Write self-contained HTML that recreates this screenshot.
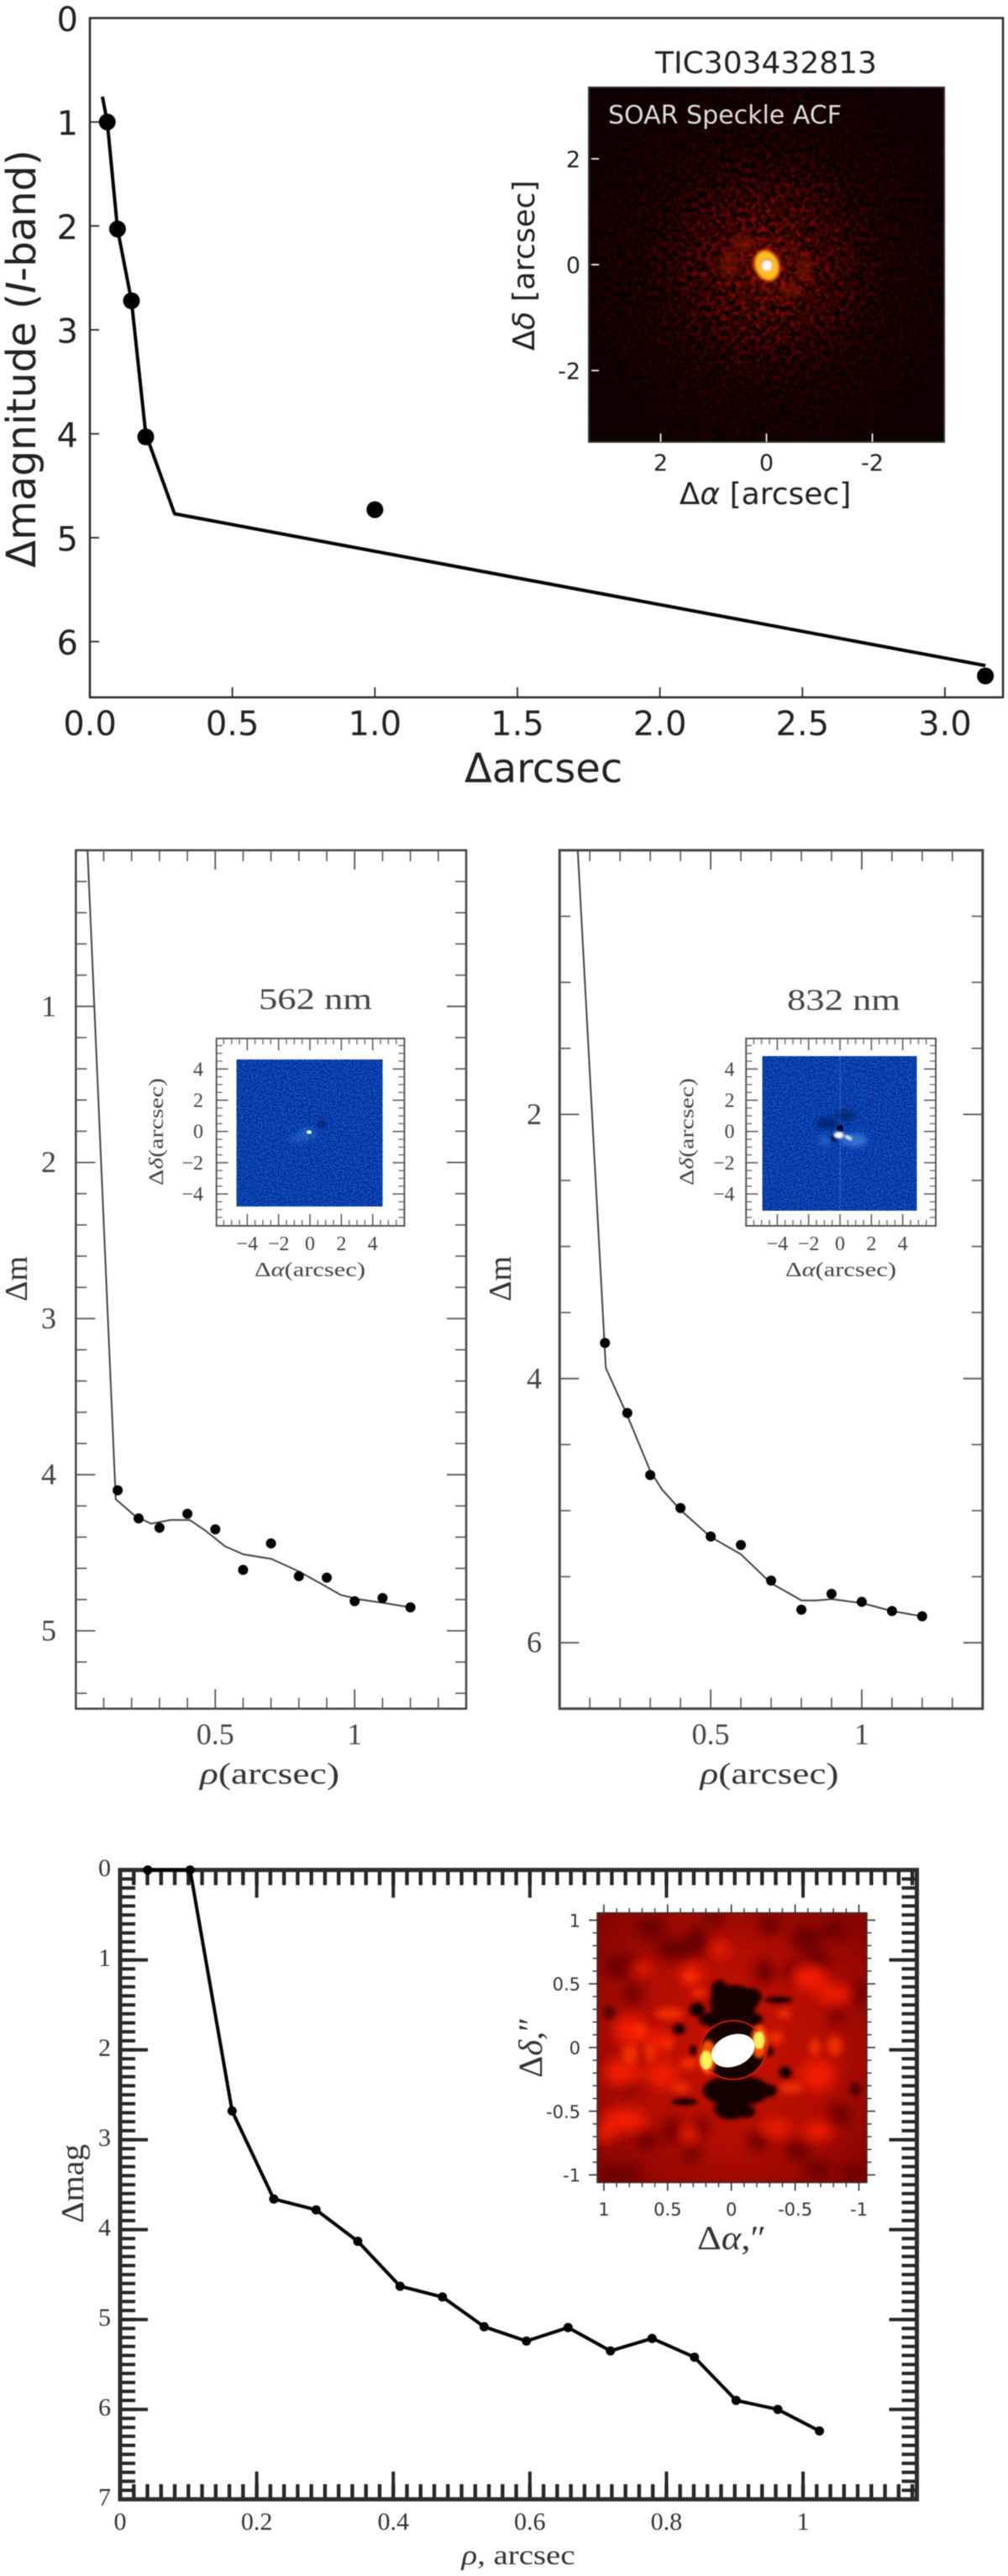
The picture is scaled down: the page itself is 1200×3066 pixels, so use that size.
<!DOCTYPE html>
<html lang="en">
<head>
<meta charset="utf-8">
<title>Contrast curves for TIC303432813</title>
<style>
html,body{margin:0;padding:0;background:#fff;}
#figure{display:block;width:1200px;height:3066px;filter:blur(0.45px);}
.sans{font-family:"DejaVu Sans","Liberation Sans",sans-serif;}
.serif{font-family:"Liberation Serif","DejaVu Serif",serif;}
</style>
</head>
<body>
<svg id="figure" xmlns="http://www.w3.org/2000/svg" width="1200" height="3066" viewBox="0 0 1200 3066">
<defs>
  <filter id="speckleNoise" x="0" y="0" width="100%" height="100%" color-interpolation-filters="sRGB">
    <feTurbulence type="fractalNoise" baseFrequency="0.17" numOctaves="2" seed="7"/>
    <feColorMatrix type="matrix" values="2.2 0 0 0 -0.78  0.12 0 0 0 -0.05  0 0 0 0 0  0 0 0 0 1"/>
  </filter>
  <radialGradient id="speckleFade" gradientUnits="userSpaceOnUse" cx="912" cy="316" r="240">
    <stop offset="0" stop-color="#bbb"/>
    <stop offset="0.3" stop-color="#777"/>
    <stop offset="0.6" stop-color="#2a2a2a"/>
    <stop offset="1" stop-color="#0c0c0c"/>
  </radialGradient>
  <mask id="speckleMask" maskUnits="userSpaceOnUse" x="701" y="104" width="423" height="422">
    <rect x="701" y="104" width="423" height="422" fill="url(#speckleFade)"/>
  </mask>
  <radialGradient id="speckleGlow">
    <stop offset="0" stop-color="#a02000" stop-opacity="0.8"/>
    <stop offset="1" stop-color="#a02000" stop-opacity="0"/>
  </radialGradient>
  <filter id="blueNoise" x="0" y="0" width="100%" height="100%" color-interpolation-filters="sRGB">
    <feTurbulence type="fractalNoise" baseFrequency="0.55" numOctaves="2" seed="11"/>
    <feColorMatrix type="matrix" values="0 0 0 0 0.04  0.5 0 0 0 0  0.9 0 0 0 0.22  0 0 0 0 1"/>
  </filter>
  <filter id="blur1" x="-30%" y="-30%" width="160%" height="160%"><feGaussianBlur stdDeviation="1.2"/></filter>
  <filter id="blur3" x="-60%" y="-60%" width="220%" height="220%"><feGaussianBlur stdDeviation="3"/></filter>
  <filter id="heatBlur" x="-10%" y="-10%" width="120%" height="120%"><feGaussianBlur stdDeviation="22"/></filter>
  <filter id="heatBlurMid" x="-30%" y="-30%" width="160%" height="160%"><feGaussianBlur stdDeviation="12"/></filter>
  <filter id="heatBlurFine" x="-30%" y="-30%" width="160%" height="160%"><feGaussianBlur stdDeviation="7"/></filter>
  <filter id="heatBlurTiny" x="-60%" y="-60%" width="220%" height="220%"><feGaussianBlur stdDeviation="3"/></filter>
  <radialGradient id="heatBase" gradientUnits="userSpaceOnUse" cx="695" cy="590" r="640">
    <stop offset="0" stop-color="#c81200"/>
    <stop offset="0.55" stop-color="#b00e00"/>
    <stop offset="0.85" stop-color="#940800"/>
    <stop offset="1" stop-color="#860500"/>
  </radialGradient>
  <clipPath id="heatClip"><rect x="212" y="110" width="965" height="963"/></clipPath>
</defs>

<rect x="0" y="0" width="1200" height="3066" fill="#fff"/>

<!-- PANEL 1 -->
<g id="p1">
  <rect x="107" y="21.5" width="1087" height="808.5" fill="none" stroke="#2a2a2a" stroke-width="2.5"/>
  <text class="sans" x="0" y="0" transform="translate(42 427) rotate(-90)" text-anchor="middle" font-size="48" fill="#222">Δmagnitude (<tspan font-style="italic">I</tspan>-band)</text>
  <text class="sans" x="647" y="931" text-anchor="middle" font-size="48" fill="#222">Δarcsec</text>
  <g id="p1Ticks"></g>
  <g id="p1Marks"></g>
  <text class="sans" x="912" y="87" text-anchor="middle" font-size="36" fill="#222">TIC303432813</text>
  <g>
    <rect x="701" y="104" width="423" height="422" fill="#0d0000"/>
    <rect x="701" y="104" width="423" height="422" filter="url(#speckleNoise)" mask="url(#speckleMask)"/>
    <circle cx="912" cy="316" r="120" fill="url(#speckleGlow)" opacity="0.18"/>
    <circle cx="912" cy="316" r="50" fill="url(#speckleGlow)" opacity="0.28"/>
    <ellipse cx="867" cy="313" rx="11" ry="16" fill="#7a1800" opacity="0.6" filter="url(#blur3)"/>
    <ellipse cx="958" cy="320" rx="9" ry="15" fill="#7a1800" opacity="0.6" filter="url(#blur3)"/>
    <ellipse cx="942" cy="345" rx="14" ry="9" fill="#7a1800" opacity="0.6" filter="url(#blur3)"/>
    <ellipse cx="883" cy="290" rx="14" ry="9" fill="#7a1800" opacity="0.6" filter="url(#blur3)"/>
    <g filter="url(#blur1)">
      <ellipse cx="913" cy="316" rx="16" ry="20" fill="#d04000" transform="rotate(-20 913 316)"/>
      <ellipse cx="913" cy="316" rx="13" ry="17" fill="#ffc020" transform="rotate(-20 913 316)"/>
      <circle cx="913" cy="315" r="7.5" fill="#f09000"/>
      <circle cx="913" cy="316" r="6" fill="#fff"/>
    </g>
    <rect x="701" y="104" width="423" height="422" fill="none" stroke="#333" stroke-width="2"/>
  </g>
  <text class="sans" x="724" y="147" font-size="30" fill="#dcdcdc">SOAR Speckle ACF</text>
  <g id="p1InsetTicks"></g>
  <text class="sans" x="0" y="0" transform="translate(636 316) rotate(-90)" text-anchor="middle" font-size="36" fill="#222">Δ<tspan font-style="italic">δ</tspan> [arcsec]</text>
  <text class="sans" x="911" y="600" text-anchor="middle" font-size="36" fill="#222">Δ<tspan font-style="italic">α</tspan> [arcsec]</text>
</g>

<!-- PANEL 2 -->
<g id="p2">
  <rect x="90.3" y="1012" width="464.7" height="1021.7" fill="none" stroke="#444" stroke-width="2.5"/>
  <g id="p2Ticks"></g>
  <g id="p2Marks"></g>
  <text class="serif" x="0" y="0" transform="translate(32 1522) rotate(-90)" text-anchor="middle" font-size="38" fill="#333">Δm</text>
  <text class="serif" x="321" y="2123" text-anchor="middle" font-size="36" fill="#333" textLength="166" lengthAdjust="spacingAndGlyphs"><tspan font-style="italic">ρ</tspan>(arcsec)</text>
  <text class="serif" x="375.5" y="1201" text-anchor="middle" font-size="36" fill="#444" textLength="135" lengthAdjust="spacingAndGlyphs">562 nm</text>
  <g>
    <rect x="281.5" y="1261" width="173.7" height="175" filter="url(#blueNoise)"/>
    <ellipse cx="366" cy="1350" rx="10" ry="9" fill="#3f8ae0" opacity="0.35" filter="url(#blur3)"/>
    <ellipse cx="353" cy="1355" rx="8" ry="6" fill="#2f78d8" opacity="0.35" filter="url(#blur3)"/>
    <ellipse cx="383" cy="1338" rx="6" ry="5" fill="#062060" opacity="0.6" filter="url(#blur1)"/>
    <rect x="367.5" y="1318" width="1.5" height="60" fill="#07296f" opacity="0.45"/>
    <ellipse cx="368" cy="1347.5" rx="3" ry="2.2" fill="#fff"/>
  </g>
  <rect x="257.7" y="1236" width="223.7" height="223" fill="none" stroke="#555" stroke-width="2"/>
  <g id="p2InsetTicks"></g>
  <text class="serif" x="0" y="0" transform="translate(194 1347) rotate(-90)" text-anchor="middle" font-size="24" fill="#444" textLength="128" lengthAdjust="spacingAndGlyphs">Δ<tspan font-style="italic">δ</tspan>(arcsec)</text>
  <text class="serif" x="369" y="1519" text-anchor="middle" font-size="24" fill="#444" textLength="132" lengthAdjust="spacingAndGlyphs">Δ<tspan font-style="italic">α</tspan>(arcsec)</text>
</g>

<!-- PANEL 3 -->
<g id="p3">
  <rect x="666.2" y="1012" width="503.6" height="1021.7" fill="none" stroke="#444" stroke-width="3"/>
  <g id="p3Ticks"></g>
  <g id="p3Marks"></g>
  <text class="serif" x="0" y="0" transform="translate(608 1522) rotate(-90)" text-anchor="middle" font-size="38" fill="#333">Δm</text>
  <text class="serif" x="916" y="2123" text-anchor="middle" font-size="36" fill="#333" textLength="165" lengthAdjust="spacingAndGlyphs"><tspan font-style="italic">ρ</tspan>(arcsec)</text>
  <text class="serif" x="1004.5" y="1202" text-anchor="middle" font-size="36" fill="#444" textLength="135" lengthAdjust="spacingAndGlyphs">832 nm</text>
  <g>
    <rect x="907.5" y="1257.2" width="184" height="183.8" filter="url(#blueNoise)"/>
    <rect x="999.5" y="1257.2" width="1.2" height="183.8" fill="#4a86e0" opacity="0.5"/>
    <ellipse cx="1017" cy="1357" rx="16" ry="8" fill="#4f9be8" opacity="0.55" filter="url(#blur3)"/>
    <ellipse cx="982" cy="1358" rx="8" ry="7" fill="#3a80de" opacity="0.4" filter="url(#blur3)"/>
    <ellipse cx="985" cy="1337" rx="13" ry="7" fill="#041a5e" opacity="0.7" filter="url(#blur3)"/>
    <ellipse cx="1007" cy="1328" rx="12" ry="7" fill="#05215f" opacity="0.6" filter="url(#blur3)"/>
    <ellipse cx="1000" cy="1343" rx="4" ry="4" fill="#02082a"/>
    <ellipse cx="993" cy="1355" rx="4" ry="4" fill="#04133f" filter="url(#blur1)"/>
    <ellipse cx="998.5" cy="1351" rx="6" ry="4" fill="#fff" filter="url(#blur1)"/>
    <ellipse cx="1010" cy="1354" rx="5" ry="2" fill="#fff" transform="rotate(30 1010 1354)" filter="url(#blur1)"/>
  </g>
  <rect x="888.2" y="1236" width="225.8" height="223" fill="none" stroke="#555" stroke-width="2"/>
  <g id="p3InsetTicks"></g>
  <text class="serif" x="0" y="0" transform="translate(825.5 1347) rotate(-90)" text-anchor="middle" font-size="24" fill="#444" textLength="128" lengthAdjust="spacingAndGlyphs">Δ<tspan font-style="italic">δ</tspan>(arcsec)</text>
  <text class="serif" x="1001" y="1519" text-anchor="middle" font-size="24" fill="#444" textLength="132" lengthAdjust="spacingAndGlyphs">Δ<tspan font-style="italic">α</tspan>(arcsec)</text>
</g>

<!-- PANEL 4 -->
<g id="p4">
  <g id="p4Ticks"></g>
  <rect x="143" y="2225.7" width="948.5" height="749" fill="none" stroke="#2c2c2c" stroke-width="5"/>
  <g id="p4Marks"></g>
  <text class="serif" x="0" y="0" transform="translate(99 2599) rotate(-90)" text-anchor="middle" font-size="38" fill="#333" textLength="94" lengthAdjust="spacingAndGlyphs">Δmag</text>
  <text class="serif" x="617" y="3052" text-anchor="middle" font-size="33" fill="#333" textLength="135" lengthAdjust="spacingAndGlyphs"><tspan font-style="italic">ρ</tspan>, arcsec</text>
  <svg x="711" y="2276.7" width="321" height="321" viewBox="212 110 965 963">
    <g clip-path="url(#heatClip)">
      <rect x="212" y="110" width="965" height="963" fill="url(#heatBase)"/>
      <g filter="url(#heatBlur)" fill="#660000">
        <ellipse cx="405" cy="165" rx="50" ry="40"/><ellipse cx="490" cy="240" rx="70" ry="40"/><ellipse cx="570" cy="210" rx="40" ry="55"/>
        <ellipse cx="960" cy="200" rx="55" ry="45"/><ellipse cx="1000" cy="280" rx="50" ry="35"/><ellipse cx="1060" cy="170" rx="40" ry="35"/>
        <ellipse cx="340" cy="400" rx="35" ry="35"/><ellipse cx="300" cy="300" rx="65" ry="40"/><ellipse cx="810" cy="320" rx="35" ry="45"/>
        <ellipse cx="910" cy="320" rx="30" ry="45"/><ellipse cx="630" cy="130" rx="35" ry="25"/><ellipse cx="830" cy="150" rx="40" ry="35"/>
        <ellipse cx="390" cy="925" rx="40" ry="30"/><ellipse cx="480" cy="890" rx="30" ry="50"/><ellipse cx="580" cy="880" rx="27" ry="40"/>
        <ellipse cx="790" cy="925" rx="40" ry="35"/><ellipse cx="930" cy="960" rx="45" ry="35"/><ellipse cx="1000" cy="1030" rx="50" ry="30"/>
        <ellipse cx="260" cy="1050" rx="45" ry="30"/><ellipse cx="550" cy="970" rx="35" ry="30"/><ellipse cx="1130" cy="1040" rx="45" ry="30"/>
        <ellipse cx="330" cy="1040" rx="35" ry="30"/><ellipse cx="1080" cy="830" rx="40" ry="35"/><ellipse cx="1150" cy="400" rx="30" ry="45"/>
        <ellipse cx="1070" cy="480" rx="27" ry="30"/><ellipse cx="320" cy="720" rx="30" ry="30"/><ellipse cx="405" cy="710" rx="27" ry="25"/>
      </g>
      <g filter="url(#heatBlur)" fill="#f01c00">
        <ellipse cx="330" cy="530" rx="60" ry="55"/><ellipse cx="300" cy="680" rx="65" ry="50"/><ellipse cx="440" cy="690" rx="65" ry="50"/>
        <ellipse cx="310" cy="850" rx="85" ry="45"/><ellipse cx="970" cy="340" rx="65" ry="45"/><ellipse cx="1060" cy="400" rx="65" ry="35"/>
        <ellipse cx="1000" cy="690" rx="65" ry="55"/><ellipse cx="850" cy="880" rx="60" ry="30"/><ellipse cx="1000" cy="890" rx="55" ry="35"/>
        <ellipse cx="550" cy="330" rx="45" ry="35"/><ellipse cx="370" cy="310" rx="45" ry="22"/><ellipse cx="650" cy="240" rx="40" ry="27"/>
        <ellipse cx="240" cy="900" rx="35" ry="30"/><ellipse cx="540" cy="900" rx="30" ry="35"/><ellipse cx="430" cy="570" rx="50" ry="40"/>
      </g>
      <g filter="url(#heatBlurMid)" fill="#f83400" opacity="0.85">
        <ellipse cx="330" cy="615" rx="28" ry="38"/><ellipse cx="402" cy="610" rx="18" ry="34"/><ellipse cx="470" cy="470" rx="52" ry="22"/>
        <ellipse cx="365" cy="530" rx="24" ry="22"/><ellipse cx="540" cy="648" rx="32" ry="20"/><ellipse cx="850" cy="555" rx="30" ry="22"/>
        <ellipse cx="905" cy="735" rx="44" ry="20"/><ellipse cx="990" cy="590" rx="20" ry="32"/><ellipse cx="1062" cy="585" rx="28" ry="36"/>
        <ellipse cx="510" cy="735" rx="37" ry="17"/><ellipse cx="575" cy="395" rx="27" ry="16"/><ellipse cx="880" cy="470" rx="27" ry="17"/>
        <ellipse cx="545" cy="340" rx="24" ry="20"/><ellipse cx="465" cy="575" rx="16" ry="22"/>
      </g>
      <g filter="url(#heatBlurFine)" fill="#120000">
        <ellipse cx="700" cy="430" rx="85" ry="62"/><ellipse cx="650" cy="385" rx="30" ry="35"/><ellipse cx="570" cy="455" rx="28" ry="24"/>
        <ellipse cx="760" cy="410" rx="40" ry="32"/><ellipse cx="860" cy="420" rx="50" ry="11"/><ellipse cx="690" cy="490" rx="115" ry="35"/>
        <ellipse cx="710" cy="745" rx="120" ry="55"/><ellipse cx="690" cy="810" rx="60" ry="38"/><ellipse cx="830" cy="745" rx="24" ry="22"/>
        <ellipse cx="525" cy="785" rx="46" ry="12"/><ellipse cx="745" cy="820" rx="32" ry="22"/><ellipse cx="505" cy="525" rx="22" ry="18"/>
        <ellipse cx="885" cy="680" rx="22" ry="20"/><ellipse cx="555" cy="600" rx="12" ry="17"/><ellipse cx="830" cy="605" rx="12" ry="17"/>
        <ellipse cx="255" cy="465" rx="22" ry="24" opacity="0.5"/><ellipse cx="1135" cy="740" rx="22" ry="26" opacity="0.5"/>
      </g>
      <ellipse cx="698" cy="600" rx="115" ry="105" fill="#180000"/>
      <g filter="url(#heatBlurFine)">
        <ellipse cx="608" cy="625" rx="30" ry="62" fill="#ff5000"/>
        <ellipse cx="792" cy="570" rx="30" ry="60" fill="#ff5000"/>
      </g>
      <ellipse cx="698" cy="600" rx="115" ry="105" fill="none" stroke="#d82000" stroke-width="5"/>
      <ellipse cx="602" cy="636" rx="22" ry="34" fill="#fff25a" filter="url(#heatBlurTiny)"/>
      <ellipse cx="791" cy="565" rx="20" ry="32" fill="#fff25a" filter="url(#heatBlurTiny)"/>
      <ellipse cx="698" cy="602" rx="80" ry="56" fill="#fff" transform="rotate(-22 698 602)"/>
    </g>
  </svg>
  <rect x="711" y="2276.7" width="321" height="321" fill="none" stroke="#333" stroke-width="1.5"/>
  <g id="p4InsetTicks"></g>
  <text class="serif" x="0" y="0" transform="translate(645 2437) rotate(-90)" text-anchor="middle" font-size="40" fill="#333" textLength="72" lengthAdjust="spacingAndGlyphs">Δ<tspan font-style="italic">δ</tspan>,″</text>
  <text class="serif" x="871" y="2677" text-anchor="middle" font-size="40" fill="#333" textLength="82" lengthAdjust="spacingAndGlyphs">Δ<tspan font-style="italic">α</tspan>,″</text>
</g>
</svg>

<script>
// ---------- chart data ----------
const p1PointSep = [0.061, 0.097, 0.146, 0.196, 1.0, 3.142];
const p1PointMag = [1.0, 2.03, 2.72, 4.03, 4.73, 6.33];
const p1CurveSep = [0.044, 0.061, 0.097, 0.146, 0.196, 0.297, 3.142];
const p1CurveMag = [0.756, 1.0, 2.03, 2.72, 4.0, 4.77, 6.23];
const p1XTicks = ['0.0', '0.5', '1.0', '1.5', '2.0', '2.5', '3.0'];
const p1YTicks = ['0', '1', '2', '3', '4', '5', '6'];
const p1InsetXTicks = ['2', '0', '-2'];
const p1InsetYTicks = ['2', '0', '-2'];

const p2PointSep = [0.15, 0.225, 0.3, 0.4, 0.5, 0.6, 0.7, 0.8, 0.9, 1.0, 1.1, 1.2];
const p2PointMag = [4.1, 4.28, 4.34, 4.25, 4.35, 4.61, 4.44, 4.65, 4.66, 4.81, 4.79, 4.85];
const p2CurveSep = [0.042, 0.143, 0.212, 0.27, 0.339, 0.408, 0.466, 0.535, 0.601, 0.702, 0.8, 0.881, 0.95, 1.02, 1.1, 1.2];
const p2CurveMag = [0, 4.157, 4.264, 4.314, 4.29, 4.29, 4.36, 4.459, 4.51, 4.54, 4.62, 4.7, 4.77, 4.8, 4.82, 4.85];
const p2XTicks = ['0.5', '1'];
const p2YTicks = ['1', '2', '3', '4', '5'];

const p3PointSep = [0.15, 0.224, 0.3, 0.4, 0.5, 0.6, 0.7, 0.8, 0.9, 1.0, 1.1, 1.2];
const p3PointMag = [3.73, 4.26, 4.73, 4.98, 5.195, 5.26, 5.53, 5.75, 5.63, 5.69, 5.76, 5.8];
const p3CurveSep = [0.06, 0.153, 0.224, 0.3, 0.339, 0.4, 0.5, 0.6, 0.7, 0.755, 0.8, 0.851, 0.9, 1.0, 1.1, 1.2];
const p3CurveMag = [0, 3.92, 4.28, 4.7, 4.84, 4.995, 5.2, 5.33, 5.55, 5.62, 5.68, 5.68, 5.67, 5.7, 5.76, 5.8];
const p3XTicks = ['0.5', '1'];
const p3YTicks = ['2', '4', '6'];

const speckleInsetXTicks = ['−4', '−2', '0', '2', '4'];
const speckleInsetYTicks = ['4', '2', '0', '−2', '−4'];

const p4PointSep = [0.0405, 0.1025, 0.164, 0.225, 0.287, 0.348, 0.41, 0.472, 0.533, 0.595, 0.656, 0.718, 0.779, 0.841, 0.902, 0.963, 1.024];
const p4PointMag = [0, 0, 2.68, 3.66, 3.78, 4.13, 4.63, 4.75, 5.08, 5.24, 5.09, 5.35, 5.21, 5.42, 5.9, 6.0, 6.24];
const p4XTicks = ['0', '0.2', '0.4', '0.6', '0.8', '1'];
const p4YTicks = ['0', '1', '2', '3', '4', '5', '6', '7'];
const p4InsetXTicks = ['1', '0.5', '0', '-0.5', '-1'];
const p4InsetYTicks = ['1', '0.5', '0', '-0.5', '-1'];

// ---------- axis functions ----------
const p1X = v => 107 + v * 339.3;
const p1Y = v => 21.5 + v * 123.7;
const p1InX = v => 912.5 - v * 63;
const p1InY = v => 315 - v * 63;
const p2X = v => 90.3 + v * 331.9;
const p2Y = v => 1012 + v * 185.8;
const p2InX = v => 369 + v * 18.67;
const p2InY = v => 1346.7 - v * 18.6;
const p3X = v => 666.2 + v * 359.7;
const p3Y = v => 1012 + v * 157.2;
const p3InX = v => 1000 + v * 18.67;
const p3InY = v => 1346.7 - v * 18.6;
const p4X = v => 143 + v * 813;
const p4Y = v => 2225.7 + v * 107;
const p4InX = v => 870.7 - v * 151.8;
const p4InY = v => 2437 - v * 151.6;

const SVG_NS = 'http://www.w3.org/2000/svg';
const num = s => parseFloat(String(s).replace('−', '-'));
function byId(id) { return document.getElementById(id); }
function make(tag, parent, geom) {
  const n = document.createElementNS(SVG_NS, tag);
  for (const k in geom) n.setAttribute(k, geom[k]);
  parent.appendChild(n);
  return n;
}
function steps(a, b, d) {
  const out = [];
  const count = Math.round((b - a) / d);
  for (let i = 0; i <= count; i++) out.push(Math.round((a + i * d) * 1000) / 1000);
  return out;
}
function tick(parent, x1, y1, x2, y2, color, width) {
  const t = make('line', parent, { x1, y1, x2, y2, stroke: color, 'stroke-width': width });
  
  
}
function label(parent, str, x, y, anchor, cls, size, color) {
  const t = make('text', parent, { x, y, 'text-anchor': anchor, class: cls, 'font-size': size, fill: color });
  t.textContent = str;
  
  
}
function curve(parent, xs, ys, sx, sy, color, width) {
  const pts = xs.map((v, i) => sx(v).toFixed(1) + ',' + sy(ys[i]).toFixed(1)).join(' ');
  const l = make('polyline', parent, { points: pts, fill: 'none', stroke: color, 'stroke-width': width, 'stroke-linejoin': 'round' });
  
  
}
function dots(parent, xs, ys, sx, sy, r) {
  xs.forEach((v, i) => {
    const c = make('circle', parent, { cx: sx(v).toFixed(1), cy: sy(ys[i]).toFixed(1), r, fill: '#000' });
    
    
  });
}
function ticksX(parent, vals, sx, yA, lenA, yB, lenB, color, width) {
  vals.forEach(v => {
    if (lenA) tick(parent, sx(v), yA, sx(v), yA + lenA, color, width);
    if (lenB) tick(parent, sx(v), yB, sx(v), yB + lenB, color, width);
  });
}
function ticksY(parent, vals, sy, xA, lenA, xB, lenB, color, width) {
  vals.forEach(v => {
    if (lenA) tick(parent, xA, sy(v), xA + lenA, sy(v), color, width);
    if (lenB) tick(parent, xB, sy(v), xB + lenB, sy(v), color, width);
  });
}

// ---------- panel 1 ----------
(function () {
  const g = byId('p1Ticks');
  ticksX(g, p1XTicks.map(num), p1X, 830, -12, 0, 0, '#2a2a2a', 1.8);
  ticksY(g, p1YTicks.map(num).slice(1), p1Y, 107, 11, 0, 0, '#2a2a2a', 1.8);
  p1XTicks.forEach(s => label(g, s, p1X(num(s)), 875, 'middle', 'sans', 40, '#222'));
  p1YTicks.forEach(s => label(g, s, 93, p1Y(num(s)) + 15.5, 'end', 'sans', 40, '#222'));
  const m = byId('p1Marks');
  curve(m, p1CurveSep, p1CurveMag, p1X, p1Y, '#000', 4);
  dots(m, p1PointSep, p1PointMag, p1X, p1Y, 10);
  const i = byId('p1InsetTicks');
  ticksX(i, p1InsetXTicks.map(num), p1InX, 526, -10, 0, 0, '#dddddd', 2);
  ticksY(i, p1InsetYTicks.map(num), p1InY, 704, 9, 0, 0, '#dddddd', 2);
  p1InsetXTicks.forEach(s => label(i, s, p1InX(num(s)), 560, 'middle', 'sans', 27, '#222'));
  p1InsetYTicks.forEach(s => label(i, s, 691, p1InY(num(s)) + 10, 'end', 'sans', 27, '#222'));
})();

// ---------- panels 2 and 3 ----------
function cmPanel(gTicks, gMarks, gInset, sx, sy, box, ptsX, ptsY, crvX, crvY, xLabels, yLabels, yMinor, yMajorStep, labelRight, inX, inY, inBox, inLabelRight) {
  const color = '#555';
  ticksX(gTicks, steps(0.1, 1.3, 0.1).filter(v => v !== 0.5 && v !== 1), sx, box.b, -13, box.t, 13, color, 1.6);
  ticksX(gTicks, xLabels.map(num), sx, box.b, -23, box.t, 23, color, 1.8);
  const majors = yLabels.map(num);
  ticksY(gTicks, yMinor.filter(v => !majors.includes(v)), sy, box.l, 13, box.r, -13, color, 1.6);
  ticksY(gTicks, majors, sy, box.l, 23, box.r, -23, color, 1.8);
  xLabels.forEach(s => label(gTicks, s, sx(num(s)), 2076, 'middle', 'serif', 36, '#444'));
  yLabels.forEach(s => label(gTicks, s, labelRight, sy(num(s)) + 11.5, 'end', 'serif', 36, '#444'));
  curve(gMarks, crvX, crvY, sx, sy, '#444', 2);
  dots(gMarks, ptsX, ptsY, sx, sy, 6);
  const minors = steps(-5.5, 5.5, 0.5).filter(v => v % 2 !== 0);
  const inMajors = steps(-4, 4, 2);
  ticksX(gInset, minors, inX, inBox.b, -7, inBox.t, 7, '#666', 1.3);
  ticksX(gInset, inMajors, inX, inBox.b, -14, inBox.t, 14, '#555', 1.5);
  ticksY(gInset, minors, inY, inBox.l, 7, inBox.r, -7, '#666', 1.3);
  ticksY(gInset, inMajors, inY, inBox.l, 14, inBox.r, -14, '#555', 1.5);
  speckleInsetXTicks.forEach(s => label(gInset, s, inX(num(s)), 1488, 'middle', 'serif', 24, '#444'));
  speckleInsetYTicks.forEach(s => label(gInset, s, inLabelRight, inY(num(s)) + 8, 'end', 'serif', 24, '#444'));
}
cmPanel(byId('p2Ticks'), byId('p2Marks'), byId('p2InsetTicks'), p2X, p2Y,
  { l: 90.3, r: 555, t: 1012, b: 2033.7 }, p2PointSep, p2PointMag, p2CurveSep, p2CurveMag,
  p2XTicks, p2YTicks, steps(0.2, 5.4, 0.2), 1, 67,
  p2InX, p2InY, { l: 257.7, r: 481.4, t: 1236, b: 1459 }, 242);
cmPanel(byId('p3Ticks'), byId('p3Marks'), byId('p3InsetTicks'), p3X, p3Y,
  { l: 666.2, r: 1169.8, t: 1012, b: 2033.7 }, p3PointSep, p3PointMag, p3CurveSep, p3CurveMag,
  p3XTicks, p3YTicks, steps(0.5, 6, 0.5), 2, 645,
  p3InX, p3InY, { l: 888.2, r: 1114, t: 1236, b: 1459 }, 874.5);

// ---------- panel 4 ----------
(function () {
  const g = byId('p4Ticks');
  const c = '#262626';
  ticksX(g, steps(0.02, 1.16, 0.02), p4X, 2225.7, 18, 2974.7, -18, c, 4.4);
  ticksX(g, steps(0.2, 1, 0.2), p4X, 2225.7, 33, 2974.7, -33, c, 4);
  ticksY(g, steps(0.1, 6.9, 0.1), p4Y, 143, 18, 1091.5, -18, c, 4);
  ticksY(g, steps(1, 6, 1), p4Y, 143, 33, 1091.5, -33, c, 4);
  p4XTicks.forEach(s => label(g, s, p4X(num(s)), 3011, 'middle', 'serif', 30, '#333'));
  p4YTicks.forEach(s => label(g, s, 132, p4Y(num(s)) + 7.5, 'end', 'serif', 30, '#333'));
  const m = byId('p4Marks');
  curve(m, p4PointSep, p4PointMag, p4X, p4Y, '#000', 4);
  dots(m, p4PointSep, p4PointMag, p4X, p4Y, 5.5);
  const i = byId('p4InsetTicks');
  const minor = steps(-0.9, 0.9, 0.1).filter(v => Math.abs(v * 2 - Math.round(v * 2)) > 0.01);
  ticksX(i, minor, p4InX, 2276.7, -5.5, 2597.7, 5.5, '#333', 1.4);
  ticksX(i, p4InsetXTicks.map(num), p4InX, 2276.7, -10, 2597.7, 10, '#333', 1.6);
  ticksY(i, minor, p4InY, 711, -5.5, 1032, 5.5, '#333', 1.4);
  ticksY(i, p4InsetYTicks.map(num), p4InY, 711, -10, 1032, 10, '#333', 1.6);
  p4InsetXTicks.forEach(s => label(i, s, p4InX(num(s)), 2637, 'middle', 'sans', 21, '#333'));
  p4InsetYTicks.forEach(s => label(i, s, 691, p4InY(num(s)) + 8, 'end', 'sans', 21, '#333'));
})();
</script>
</body>
</html>
